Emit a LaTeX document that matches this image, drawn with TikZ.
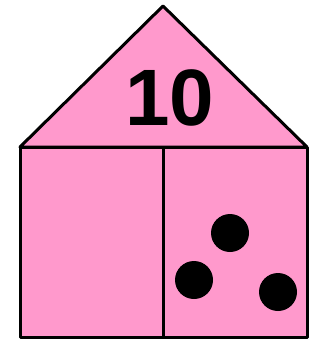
\documentclass[tikz,border=0pt]{standalone}
\usepackage{fontspec}
\setmainfont{Liberation Sans}
\usepackage{xcolor}
\definecolor{housepink}{RGB}{255,153,204}
\tikzset{
    wall/.style = {draw=black, line width=3pt, fill=housepink, line join=round},
    divider/.style = {draw=black, line width=3pt},
    dot/.style = {circle, fill=black, minimum size=38pt, inner sep=0pt},
    numlabel/.style = {font=\fontsize{80}{80}\selectfont\bfseries, inner sep=0pt}
}

\begin{document}
\begin{tikzpicture}[x=1pt, y=-1pt]
\useasboundingbox (0,0) rectangle (322,342);

\draw[wall] (20,147) -- (163,6) -- (307,147) -- cycle;
\draw[wall] (20,147) rectangle (307,337);

\coordinate (dtop) at (163,147);
\coordinate (dbot) at (163,337);
\draw[divider] (dtop) -- (dbot);

\node[numlabel] (ten) at (170,98) {10};

\node[dot] (d1) at (230,233) {};
\node[dot] (d2) at (194,280) {};
\node[dot] (d3) at (278,292) {};

\end{tikzpicture}
\end{document}
